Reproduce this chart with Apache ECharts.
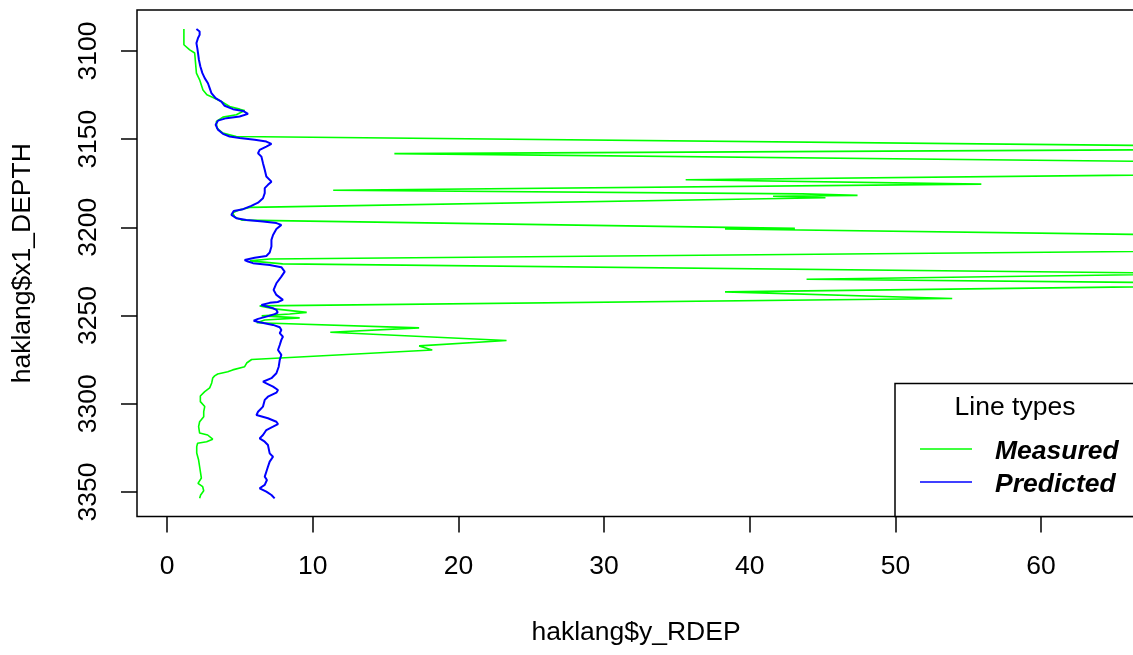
<!DOCTYPE html>
<html>
<head>
<meta charset="utf-8">
<script src="https://cdn.jsdelivr.net/npm/echarts@6/dist/echarts.min.js"></script>
<style>
html, body { margin: 0; padding: 0; background: #ffffff; }
#chart { width: 1133px; height: 655px; }
</style>
</head>
<body>
<div id="chart"></div>
<script>
// Series names, tick values and axis titles
const seriesNames = ['Measured', 'Predicted'];
const legendTitle = 'Line types';
const xTitle = 'haklang$y_RDEP';
const yTitle = 'haklang$x1_DEPTH';
const xTicks = [0, 10, 20, 30, 40, 50, 60];
const yTicks = [3100, 3150, 3200, 3250, 3300, 3350];

// Measured resistivity log (depth order)
const measuredDepth = [
  3087.6, 3096.5, 3099.4, 3101.2, 3112.6, 3116.4, 3122.1, 3124.9, 3126.8, 3128.7,
  3131.5, 3133.0, 3133.8, 3136.2, 3137.5, 3140.0, 3143.8, 3146.6, 3148.5, 3155.2,
  3158.2, 3166.5, 3173.0, 3175.5, 3179.0, 3181.0, 3181.9, 3182.4, 3183.2, 3188.7,
  3190.1, 3191.8, 3194.1, 3195.9, 3200.6, 3200.9, 3209.9, 3217.9, 3219.0, 3220.7,
  3226.2, 3229.4, 3232.3, 3236.6, 3240.3, 3244.5, 3246.2, 3248.2, 3249.1, 3250.2,
  3251.3, 3252.5, 3254.1, 3257.0, 3259.5, 3264.1, 3267.2, 3269.5, 3274.9, 3276.9,
  3279.0, 3280.8, 3281.8, 3283.1, 3284.2, 3285.4, 3288.2, 3291.0, 3293.1, 3295.6,
  3298.8, 3301.6, 3302.6, 3304.5, 3307.3, 3310.2, 3313.0, 3316.6, 3317.7, 3320.1,
  3321.5, 3322.4, 3324.3, 3327.9, 3331.9, 3335.7, 3339.4, 3342.1, 3345.1, 3347.0,
  3349.3, 3351.7, 3353.6
];
const measuredRdep = [
  1.15, 1.15, 1.55, 1.89, 2.01, 2.23, 2.46, 2.73, 3.26, 3.72,
  4.29, 4.98, 5.32, 4.75, 3.83, 3.38, 3.42, 3.83, 4.75, 86.9,
  15.6, 112.0, 35.6, 55.9, 11.4, 43.6, 47.4, 41.6, 45.2, 5.67,
  4.98, 4.50, 4.64, 5.12, 43.1, 38.3, 119.9, 7.04, 5.67, 7.93,
  72.0, 43.9, 80.3, 38.3, 53.9, 6.35, 7.38, 9.58, 8.41, 6.49,
  9.10, 6.70, 6.15, 17.3, 11.2, 23.3, 17.3, 18.2, 5.80, 5.46,
  5.32, 4.50, 4.16, 3.47, 3.26, 3.13, 3.06, 2.92, 2.58, 2.28,
  2.28, 2.58, 2.71, 2.51, 2.51, 2.23, 2.16, 2.23, 2.78, 3.13,
  2.71, 2.09, 2.03, 2.03, 2.16, 2.23, 2.30, 2.35, 2.12, 2.44,
  2.51, 2.30, 2.23
];

// Predicted resistivity (depth order)
const predictedDepth = [
  3087.6, 3089.0, 3090.9, 3092.7, 3095.6, 3098.4, 3101.2, 3105.0, 3108.8, 3112.6,
  3115.4, 3118.3, 3121.1, 3123.9, 3126.8, 3128.7, 3131.1, 3133.0, 3134.0, 3135.7,
  3137.2, 3138.1, 3139.5, 3141.9, 3144.7, 3147.0, 3148.5, 3149.4, 3150.4, 3151.4,
  3152.7, 3154.2, 3156.1, 3158.0, 3159.9, 3163.6, 3167.4, 3171.2, 3174.1, 3175.9,
  3177.8, 3180.6, 3183.5, 3186.0, 3187.8, 3189.7, 3190.7, 3192.9, 3194.8, 3195.8,
  3196.7, 3197.6, 3198.6, 3201.0, 3204.3, 3207.1, 3210.9, 3214.3, 3216.2, 3217.2,
  3218.5, 3219.4, 3220.3, 3221.3, 3222.6, 3225.1, 3227.9, 3231.7, 3235.5, 3238.3,
  3241.1, 3242.3, 3242.8, 3244.0, 3244.9, 3245.8, 3246.8, 3248.3, 3249.2, 3250.6,
  3251.9, 3252.9, 3253.8, 3255.3, 3256.6, 3258.2, 3260.0, 3262.0, 3263.8, 3266.7,
  3269.5, 3272.3, 3275.2, 3279.0, 3282.7, 3285.5, 3287.5, 3288.4, 3290.3, 3292.2,
  3293.7, 3296.0, 3297.8, 3301.6, 3304.5, 3306.4, 3308.2, 3310.2, 3311.5, 3313.0,
  3314.9, 3317.7, 3319.6, 3321.5, 3323.4, 3328.1, 3330.0, 3332.8, 3335.7, 3338.5,
  3341.3, 3343.2, 3346.0, 3347.9, 3348.9, 3349.8, 3351.7, 3353.6
];
const predictedRdep = [
  2.01, 2.23, 2.23, 2.12, 2.01, 2.07, 2.12, 2.18, 2.28, 2.42,
  2.58, 2.80, 2.92, 3.04, 3.33, 3.72, 3.95, 4.52, 5.21, 5.55,
  4.98, 4.07, 3.49, 3.33, 3.49, 3.83, 4.29, 4.98, 6.01, 6.81,
  7.16, 6.81, 6.35, 6.24, 6.47, 6.58, 6.70, 6.81, 7.16, 6.92,
  6.70, 6.70, 6.58, 6.24, 5.78, 5.21, 4.57, 4.41, 4.75, 5.44,
  6.58, 7.50, 7.84, 7.50, 7.27, 7.16, 7.16, 7.04, 6.81, 6.01,
  5.32, 5.55, 5.89, 7.04, 7.84, 8.07, 7.84, 7.50, 7.31, 7.50,
  7.95, 7.59, 7.04, 6.47, 6.56, 7.25, 7.50, 7.59, 7.38, 6.81,
  6.24, 5.94, 6.35, 7.27, 7.73, 7.84, 7.73, 7.95, 7.84, 7.73,
  7.61, 7.84, 7.73, 7.66, 7.50, 7.16, 6.58, 6.81, 7.27, 7.61,
  7.50, 6.92, 6.70, 6.58, 6.24, 6.13, 6.92, 7.50, 7.61, 7.27,
  6.81, 6.58, 6.35, 6.70, 6.92, 7.04, 7.27, 7.04, 6.92, 6.81,
  6.70, 6.85, 6.70, 6.35, 6.47, 6.81, 7.16, 7.38
];

const seriesColors = ['#00ff00', '#0000ff'];
const seriesWidths = [1.6, 2];
const FONT = '"Liberation Sans", Arial, Helvetica, sans-serif';
const FONT_SIZE = 26.5;
const INK = '#000000';

const pairs = (xs, ys) => xs.map((x, i) => [x, ys[i]]);
const plainNumber = (v) => String(v);

const chart = echarts.init(document.getElementById('chart'), null, { renderer: 'canvas' });

// Legend block (bottom-right corner of the plot box)
const legendBox = { x: 895, y: 383.5, w: 260, h: 133 };
const legendGraphics = [
  {
    type: 'rect', z: 100, silent: true,
    shape: { x: legendBox.x, y: legendBox.y, width: legendBox.w, height: legendBox.h },
    style: { fill: '#ffffff', stroke: INK, lineWidth: 1.5 }
  },
  {
    type: 'text', z: 101, silent: true,
    x: 1015, y: 408,
    style: { text: legendTitle, font: `${FONT_SIZE}px ${FONT}`, fill: INK, align: 'center', verticalAlign: 'middle' }
  }
];
seriesNames.forEach((name, i) => {
  const cy = 449 + i * 33;
  legendGraphics.push({
    type: 'line', z: 101, silent: true,
    shape: { x1: 920, y1: cy, x2: 972, y2: cy },
    style: { stroke: seriesColors[i], lineWidth: 1.5 }
  });
  legendGraphics.push({
    type: 'text', z: 101, silent: true,
    x: 995, y: cy + 3,
    style: { text: name, font: `italic bold ${FONT_SIZE}px ${FONT}`, fill: INK, align: 'left', verticalAlign: 'middle' }
  });
});

const axisText = { color: INK, fontSize: FONT_SIZE, fontFamily: FONT };

chart.setOption({
  animation: false,
  backgroundColor: '#ffffff',
  grid: {
    left: 137, top: 10, right: -2, bottom: 138.5,
    show: true, borderColor: INK, borderWidth: 1.5, backgroundColor: 'transparent',
    containLabel: false, outerBoundsMode: 'none'
  },
  xAxis: {
    type: 'value', min: -2.07, max: 66.45,
    axisLine: { show: false, onZero: false },
    axisTick: { show: true, customValues: xTicks, length: 16, lineStyle: { color: INK, width: 1.5 } },
    axisLabel: Object.assign({ customValues: xTicks, margin: 37, formatter: plainNumber }, axisText),
    splitLine: { show: false },
    name: xTitle, nameLocation: 'middle', nameGap: 103,
    nameTextStyle: axisText
  },
  yAxis: {
    type: 'value', inverse: true, min: 3076.8, max: 3363.9,
    axisLine: { show: false, onZero: false },
    axisTick: { show: true, customValues: yTicks, length: 16, lineStyle: { color: INK, width: 1.5 } },
    axisLabel: Object.assign({ customValues: yTicks, margin: 35, rotate: 90, formatter: plainNumber }, axisText),
    splitLine: { show: false },
    name: yTitle, nameLocation: 'middle', nameGap: 101, nameRotate: 90,
    nameTextStyle: axisText
  },
  series: seriesNames.map((name, i) => ({
    name: name, type: 'line',
    data: i === 0 ? pairs(measuredRdep, measuredDepth) : pairs(predictedRdep, predictedDepth),
    symbol: 'none', showSymbol: false, clip: true, z: 2 + i,
    color: seriesColors[i], lineStyle: { color: seriesColors[i], width: seriesWidths[i] }
  })),
  graphic: legendGraphics
});
</script>
</body>
</html>
